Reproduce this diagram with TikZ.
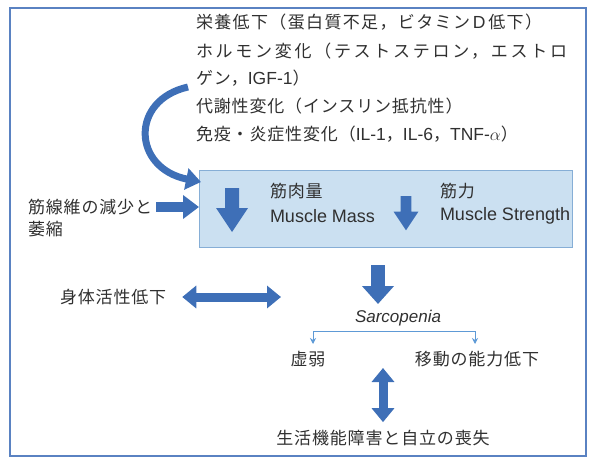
\documentclass[tikz,border=0pt]{standalone}
\usepackage{fontspec}
\setmainfont{Noto Sans CJK JP}[LetterSpace=5]
\newfontfamily\latinfont{Liberation Sans}
\newcommand{\lat}[1]{{\latinfont\fontsize{17.5}{20}\selectfont #1}}
\usetikzlibrary{arrows.meta}
\definecolor{arrowblue}{HTML}{3E6FB7}
\definecolor{boxfill}{HTML}{CBE0F1}
\definecolor{boxline}{HTML}{86AED6}
\definecolor{framecol}{HTML}{5A82C2}
\definecolor{thinblue}{HTML}{5E9AD6}
\definecolor{txt}{HTML}{303030}
\tikzset{
  lbl/.style={inner sep=0pt, outer sep=0pt, anchor=west, text=txt, font=\fontsize{17}{20}\selectfont},
  latlbl/.style={inner sep=0pt, outer sep=0pt, anchor=west, text=txt, font=\latinfont\fontsize{18}{20}\selectfont},
  frame/.style={draw=framecol, line width=2pt},
  bluebox/.style={draw=boxline, fill=boxfill, line width=1pt, inner sep=0pt},
  fatarrow/.style={draw=arrowblue, line width=14pt, -{Triangle[width=31pt,length=18pt]}},
  medarrow/.style={draw=arrowblue, line width=10pt, -{Triangle[width=23pt,length=16pt]}},
  dblarrow/.style={draw=arrowblue, line width=9pt, {Triangle[width=22pt,length=14pt]}-{Triangle[width=22pt,length=14pt]}},
  curvearrow/.style={draw=arrowblue, line width=7pt, -{Triangle[width=21pt,length=15pt]}},
  blkdown/.pic={\fill[arrowblue] (-7,0) -- (7,0) -- (7,20) -- (16,20) -- (0,44) -- (-16,20) -- (-7,20) -- cycle;},
  thinline/.style={draw=thinblue, line width=0.9pt},
  thinarrow/.style={draw=thinblue, line width=0.9pt, -{Stealth[length=6pt,width=6pt]}}
}
\begin{document}
\begin{tikzpicture}[x=1pt,y=-1pt]
\useasboundingbox (0,0) rectangle (595,463);
\draw[frame] (10,8) rectangle (586,456);

% top causes
\node[lbl] (n1) at (196,22) {\addfontfeature{LetterSpace=8}栄養低下（蛋白質不足，ビタミン\,\lat{D}\,低下）};
\node[lbl] (n2) at (196,51) {\addfontfeature{LetterSpace=16}ホルモン変化（テストステロン，エストロ};
\node[lbl] (n3) at (196,78) {ゲン，\lat{IGF-1}）};
\node[lbl] (n4) at (196,106) {代謝性変化（インスリン抵抗性）};
\node[lbl] (n5) at (196,134) {免疫・炎症性変化（\lat{IL-1}，\lat{IL-6}，\lat{TNF-}$\alpha$）};

% central box
\node[bluebox, minimum width=373pt, minimum height=77pt, anchor=north west] (box) at (199,170) {};
\pic at (232,188) {blkdown};
\pic[scale=0.78] at (406,196) {blkdown};
\node[lbl] (mm1) at (270,191) {筋肉量};
\node[latlbl] (mm2) at (270,216) {Muscle Mass};
\node[lbl] (ms1) at (440,191) {筋力};
\node[latlbl] (ms2) at (440,216) {Muscle Strength};

% curved arrow
\coordinate (cstart) at (188,87);
\coordinate (cend) at (201,182);
\draw[curvearrow] (cstart) .. controls (130,100) and (132,168) .. (cend);

% fibre loss
\node[lbl] (fib1) at (28,207) {筋線維の減少と};
\node[lbl] (fib2) at (28,229) {萎縮};
\draw[medarrow] ([xshift=4pt]fib1.east) -- (box.west |- fib1.east);

% down to sarcopenia
\node[inner sep=0pt, text=txt, font=\latinfont\itshape\fontsize{17}{20}\selectfont] (sarc) at (398,318) {Sarcopenia};
\coordinate (dtop) at (378,265);
\coordinate (dbot) at (378,304);
\draw[fatarrow] (dtop) -- (dbot);

% physical activity
\node[lbl] (phys) at (60,297) {身体活性低下};
\coordinate (pend) at (281,297);
\draw[dblarrow] ([xshift=16pt]phys.east) -- (pend);

% branch
\node[lbl, anchor=center] (frail) at (308,359) {虚弱};
\node[lbl, anchor=center] (mob) at (477,359) {移動の能力低下};
\coordinate (bl) at (313,331);
\coordinate (br) at (475,331);
\draw[thinline] (bl) -- (br);
\draw[thinarrow] (bl) -- (313,344);
\draw[thinarrow] (br) -- (475,344);

% bottom
\node[lbl, anchor=center] (life) at (383,438) {生活機能障害と自立の喪失};
\coordinate (vtop) at (383,368);
\draw[dblarrow] (vtop) -- ([yshift=8pt]life.north);
\end{tikzpicture}
\end{document}
